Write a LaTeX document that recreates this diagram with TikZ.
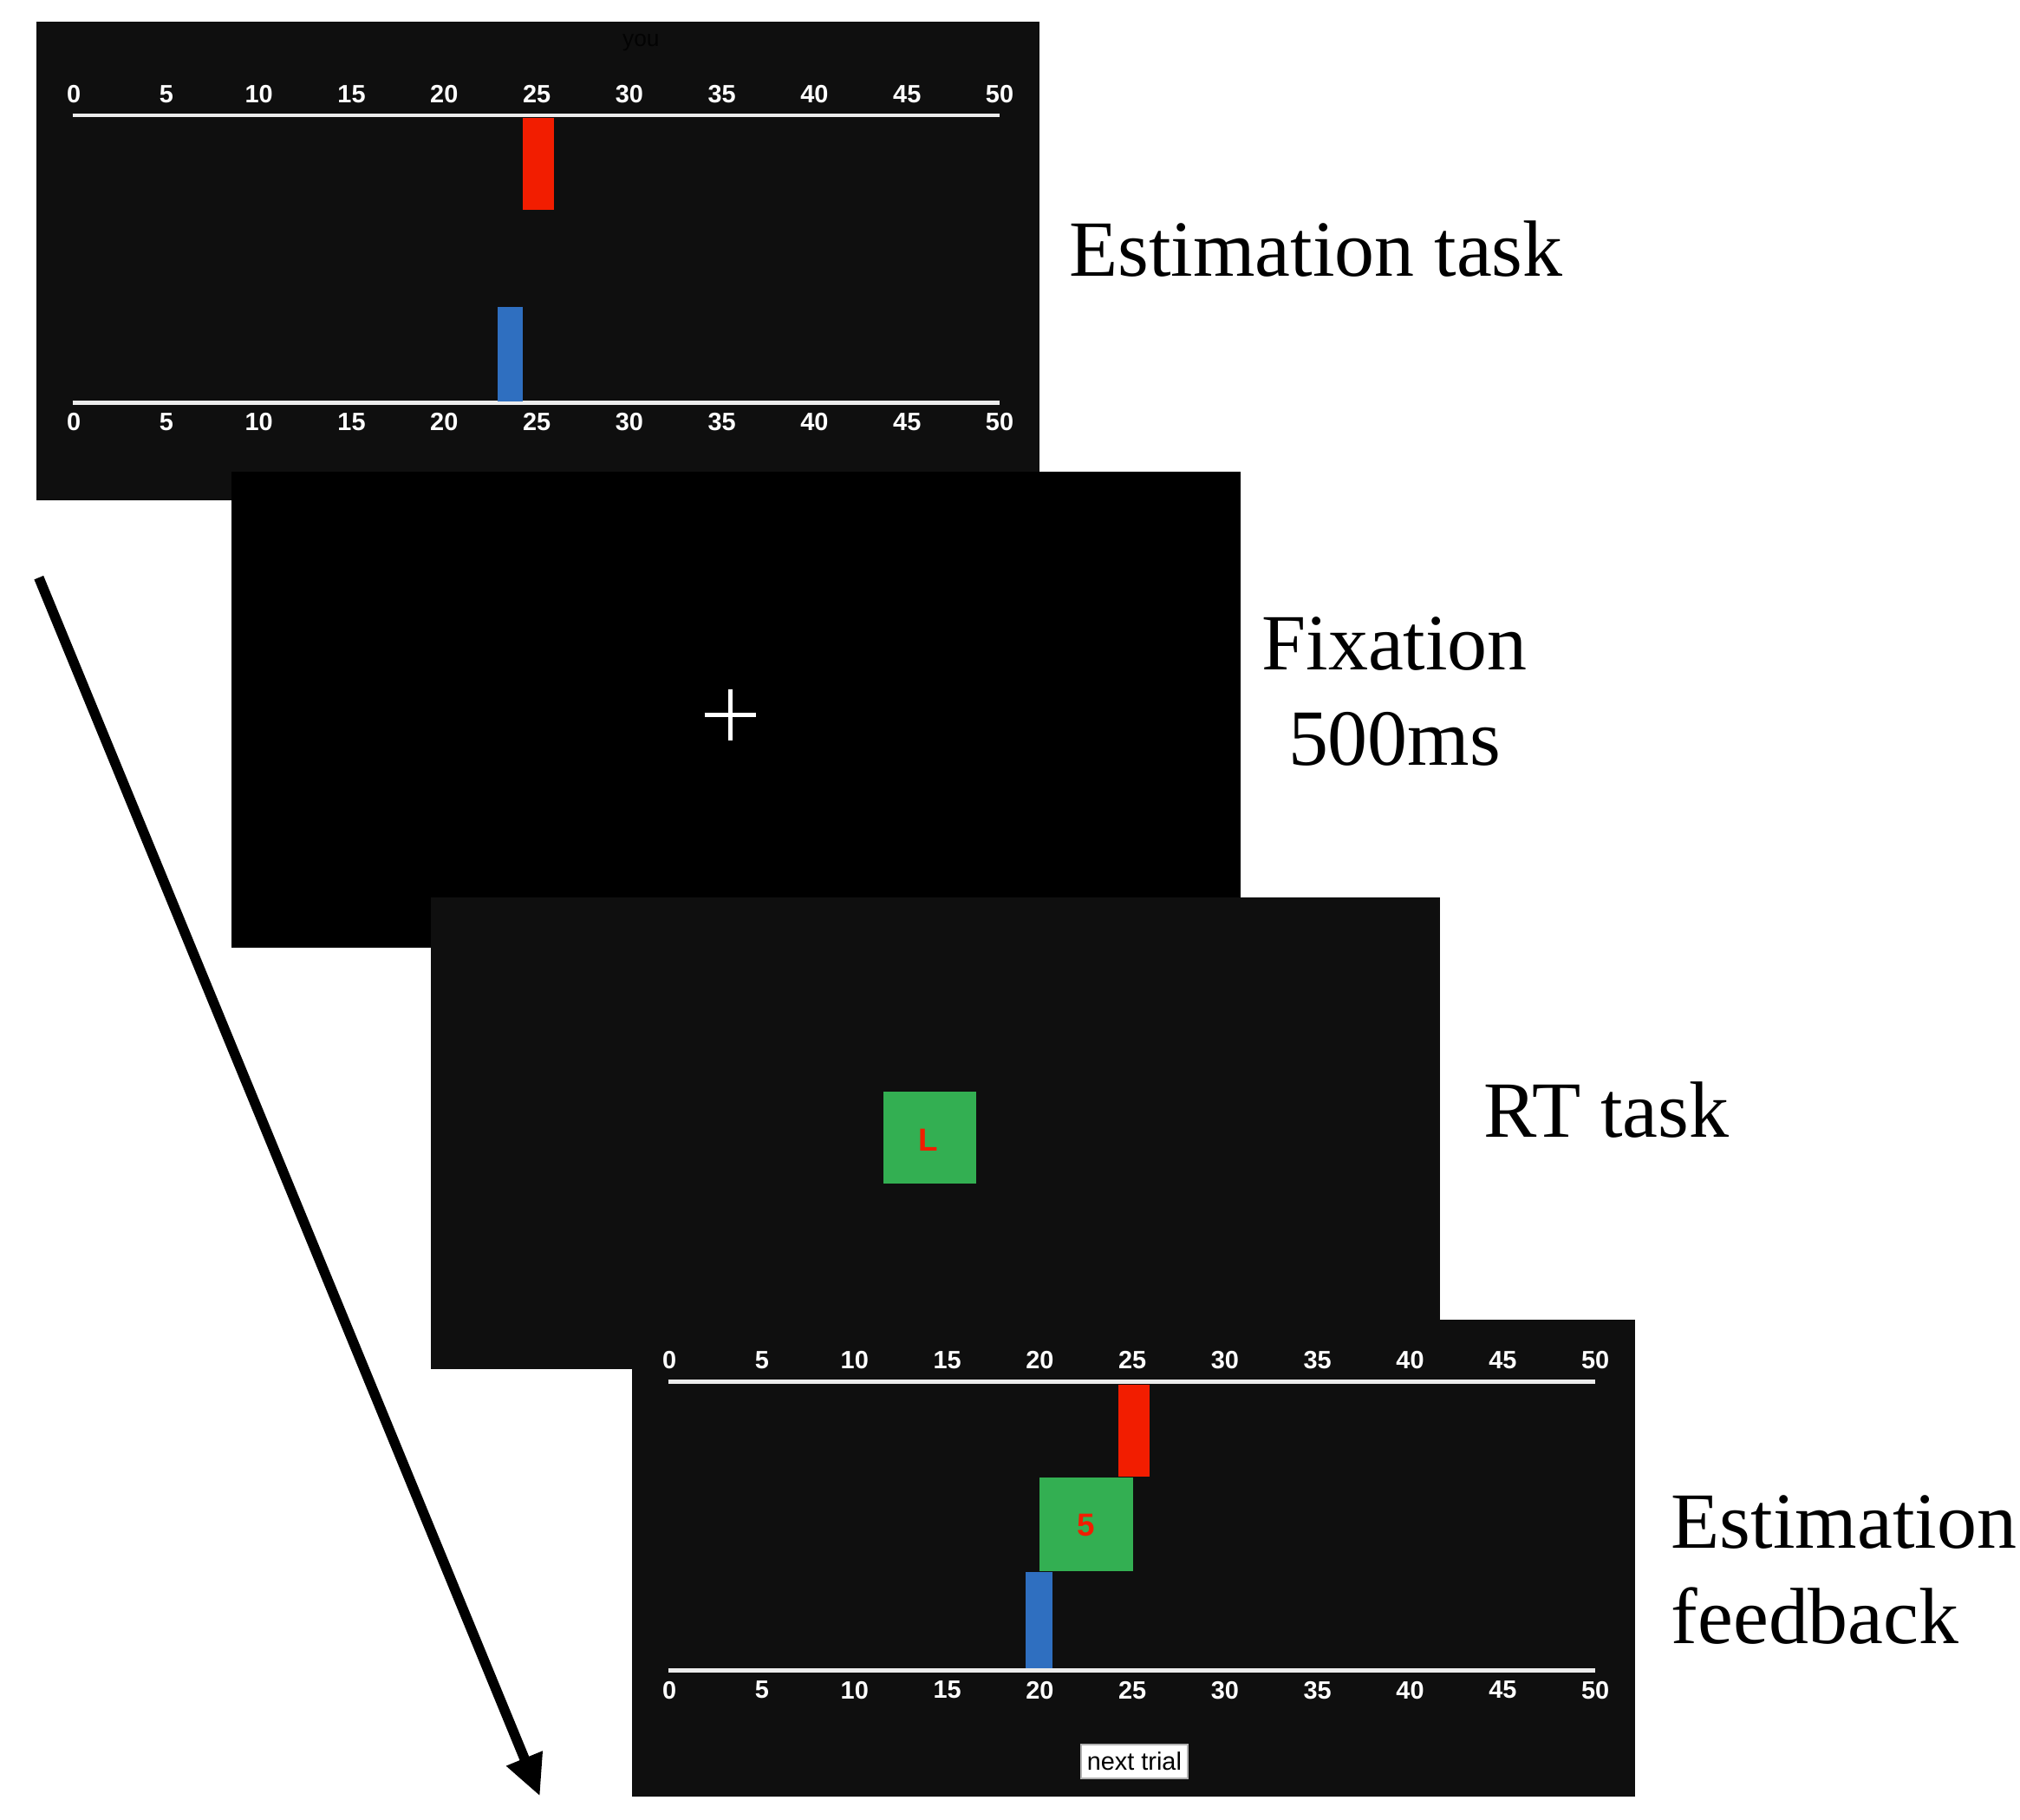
\documentclass[tikz,border=0pt]{standalone}
\usepackage{fontspec}
\setmainfont{Liberation Serif}
\newfontfamily\tickfont{Liberation Sans}
\usetikzlibrary{arrows.meta}
\definecolor{screen}{HTML}{0F0F0F}
\definecolor{barred}{HTML}{F21D00}
\definecolor{barblue}{HTML}{2F6FC0}
\definecolor{boxgreen}{HTML}{33AF52}
\tikzset{
  panel/.style={fill=screen, draw=none},
  tick/.style={text=white, font=\tickfont\bfseries\fontsize{5.5}{6}\selectfont, inner sep=0pt},
  label/.style={font=\fontsize{17.5}{21}\selectfont, anchor=west, inner sep=0pt, align=left},
  rule/.style={draw=white!85!gray, line width=0.9pt},
}
% number line: left x, line y, label y
\newcommand{\numline}[3]{%
  \draw[rule] (#1-1,#2) -- (#1+715,#2);
  \foreach \v [evaluate=\v as \px using #1+\v*14.3] in {0,5,...,50}
    \node[tick] at (\px,#3) {\v};
}
\begin{document}
\begin{tikzpicture}[x=0.01cm, y=-0.01cm]
	\useasboundingbox (0,0) rectangle (1560,1405);
	
	% estimation task
	\fill[panel] (28,17) rectangle (803,386);
	\node[text=black!80!screen, font=\tickfont\fontsize{5}{6}\selectfont] (you) at (495,33) {you};
	\numline{57}{89}{73}
	\numline{57}{311}{326}
	\fill[barred] (404,91) rectangle (428,162);
	\fill[barblue] (384,237) rectangle (404,310);
	\node[label] (est) at (825,192) {Estimation task};
	
	% fixation
	\fill[black] (179,364) rectangle (958,732);
	\draw[white, line width=1.1pt] (544,552) -- (584,552) (564,532) -- (564,572);
	\node[label, align=center, anchor=center] (fix) at (1077,534) {Fixation\\500ms};
	
	% RT task
	\fill[panel] (333,693) rectangle (1112,1057);
	\fill[boxgreen] (682,843) rectangle (754,914);
	\node[text=barred, font=\tickfont\bfseries\fontsize{7}{8}\selectfont] (rtL) at (717,880) {L};
	\node[label] (rt) at (1145,857) {RT task};
	
	% estimation feedback
	\fill[panel] (488,1019) rectangle (1263,1387);
	\numline{517}{1067}{1050}
	\numline{517}{1290}{1305}
	\fill[barred] (864,1069) rectangle (888,1140);
	\fill[boxgreen] (803,1141) rectangle (875,1213);
	\node[text=barred, font=\tickfont\bfseries\fontsize{7}{8}\selectfont] (fb5) at (839,1178) {5};
	\fill[barblue] (792,1214) rectangle (813,1288);
	\node[fill=white, draw=gray!60, font=\tickfont\fontsize{5.5}{6}\selectfont, minimum width=0.82cm, minimum height=0.26cm, inner sep=0pt] (next) at (876,1360) {next trial};
	\node[label] (fb) at (1290,1212) {Estimation\\feedback};
	
	% time arrow
	\coordinate (t0) at (30,446);
	\coordinate (t1) at (417,1387);
	\draw[line width=2.2pt, -{Triangle[length=9pt, width=8pt]}] (t0) -- (t1);
\end{tikzpicture}
\end{document}
